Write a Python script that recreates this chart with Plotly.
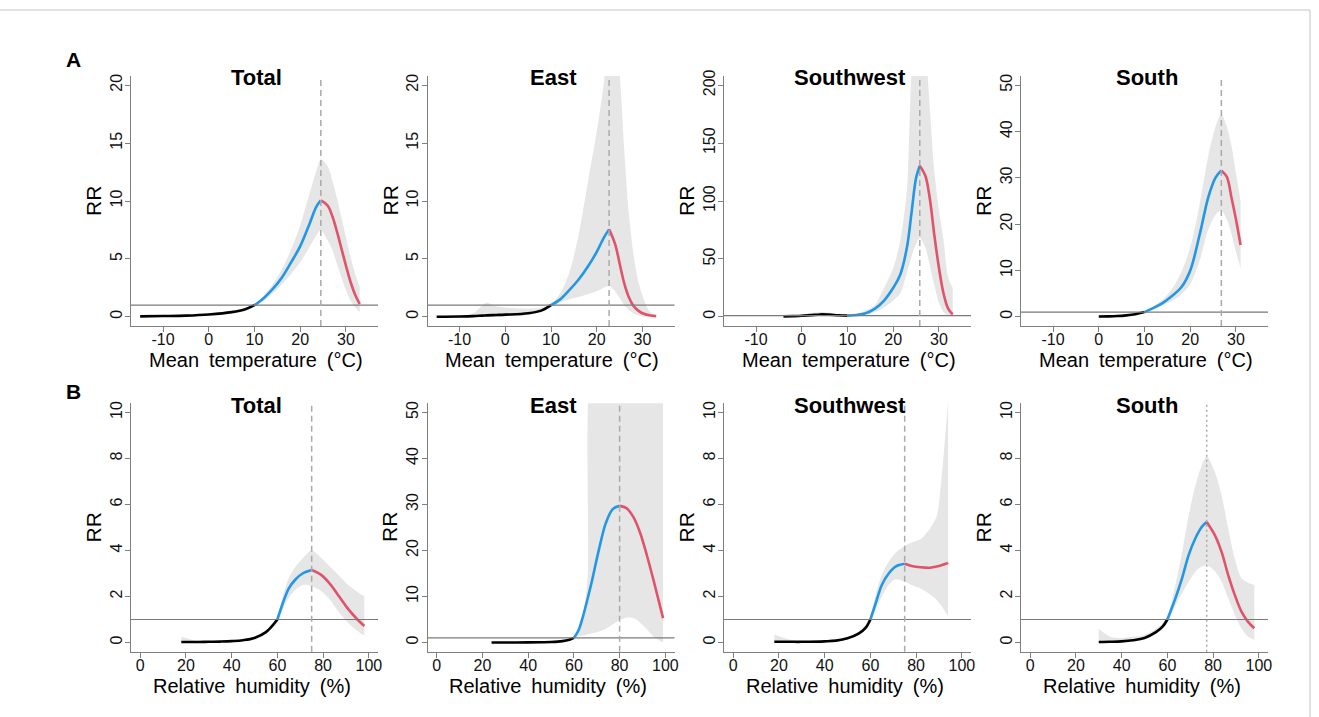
import plotly.graph_objects as go

# ---------------- data ----------------
TEMP_CUT = 10          # threshold where colour changes black -> blue (temperature)
HUM_CUT = 60           # threshold where colour changes black -> blue (humidity)
REF_RR = 1             # reference line RR = 1

panel_titles = ["Total", "East", "Southwest", "South"]
temp_ticks = [-10, 0, 10, 20, 30]
hum_ticks = [0, 20, 40, 60, 80, 100]

# Row A: mean temperature
tot_t_x = [-15, -10, -5, 0, 5, 8, 10, 12, 14, 16, 18, 20, 22, 23.5, 24.5, 26, 27, 28, 29, 30, 31, 32, 33]
tot_t_rr = [0.03, 0.06, 0.1, 0.2, 0.4, 0.65, 1.0, 1.6, 2.4, 3.4, 4.7, 6.1, 8.0, 9.5, 10.05, 9.6, 8.7, 7.4, 5.9, 4.4, 3.0, 1.9, 1.1]
tot_t_lo = [0.01, 0.03, 0.07, 0.15, 0.33, 0.58, 0.93, 1.4, 2.0, 2.8, 3.7, 4.7, 6.0, 7.0, 7.5, 6.6, 5.8, 4.6, 3.4, 2.3, 1.4, 0.8, 0.4]
tot_t_hi = [0.08, 0.1, 0.15, 0.27, 0.5, 0.75, 1.08, 1.8, 2.8, 4.1, 5.8, 7.9, 10.6, 12.6, 13.6, 13.0, 11.8, 10.3, 8.6, 6.9, 5.2, 3.7, 2.6]
tot_t_mmt = 24.5

east_t_x = [-15, -10, -7, -5, -4, -2, 0, 5, 8, 10, 12, 14, 16, 18, 20, 21.5, 22.7, 24, 25, 26, 27, 28, 29, 30, 31.5, 33]
east_t_rr = [0.0, 0.02, 0.05, 0.1, 0.12, 0.15, 0.18, 0.3, 0.55, 1.0, 1.5, 2.3, 3.2, 4.3, 5.6, 6.8, 7.55, 6.3, 4.6, 2.9, 1.7, 0.95, 0.55, 0.3, 0.12, 0.05]
east_t_lo = [0, 0, 0, 0, 0, 0, 0.05, 0.15, 0.4, 0.9, 1.25, 1.5, 1.7, 1.95, 2.2, 2.5, 2.65, 2.2, 1.6, 1.0, 0.6, 0.3, 0.15, 0.05, 0.02, 0]
east_t_hi = [0, 0.05, 0.3, 1.0, 1.2, 0.9, 0.8, 0.7, 0.8, 1.1, 2.0, 3.8, 7.0, 11.5, 16.0, 20, 24, 24, 21, 14.5, 9, 5.5, 3.2, 1.8, 0.5, 0.1]
east_t_mmt = 22.7

sw_t_x = [-4, -2, 0, 2, 4, 6, 8, 10, 12, 14, 16, 18, 20, 21.5, 23, 24, 25, 25.8, 27, 28, 29, 30, 31, 32, 33]
sw_t_rr = [0.3, 0.5, 0.8, 1.4, 2.0, 1.8, 1.3, 1.0, 1.5, 3.0, 7, 14, 25, 36, 60, 90, 120, 130.5, 122, 102, 70, 42, 20, 7, 2]
sw_t_lo = [0, 0, 0.2, 0.6, 1.0, 0.8, 0.6, 0.6, 1.0, 2.0, 4, 8, 14, 20, 38, 52, 63, 68, 60, 44, 27, 12, 4, 1, 0]
sw_t_hi = [0.8, 1.2, 1.8, 3, 4, 3.5, 2.5, 1.6, 2.2, 5.5, 10, 25, 42, 65, 110, 210, 240, 250, 230, 180, 125, 92, 66, 34, 25]
sw_t_mmt = 25.8

s_t_x = [0, 2, 4, 6, 8, 10, 12, 14, 16, 18, 20, 22, 24, 25.5, 26.8, 28, 29, 30, 31]
s_t_rr = [0.05, 0.08, 0.15, 0.3, 0.55, 1.0, 1.9, 3.0, 4.5, 6.3, 10, 17.5, 26, 30, 31.6, 30.2, 25.8, 21, 15.5]
s_t_lo = [0.02, 0.05, 0.1, 0.22, 0.45, 0.9, 1.6, 2.5, 3.4, 4.8, 7.0, 12, 19, 22, 23, 21, 18, 14, 10.5]
s_t_hi = [0.1, 0.15, 0.25, 0.45, 0.75, 1.1, 2.3, 3.7, 6, 9.5, 15, 24, 35, 41, 43.8, 41, 37, 31, 25]
s_t_mmt = 26.8

# Row B: relative humidity
tot_h_x = [18, 25, 30, 35, 40, 45, 50, 55, 60, 62, 65, 68, 71, 75, 79, 83, 87, 91, 95, 98]
tot_h_rr = [0.02, 0.02, 0.03, 0.04, 0.06, 0.1, 0.2, 0.45, 1.0, 1.6, 2.35, 2.75, 3.0, 3.15, 2.95, 2.55, 2.0, 1.45, 1.0, 0.72]
tot_h_lo = [0.0, 0.01, 0.02, 0.03, 0.05, 0.08, 0.17, 0.4, 0.85, 1.35, 1.95, 2.3, 2.5, 2.45, 2.25, 1.85, 1.3, 0.85, 0.5, 0.3]
tot_h_hi = [0.25, 0.08, 0.05, 0.06, 0.08, 0.12, 0.24, 0.52, 1.15, 1.9, 2.8, 3.3, 3.65, 4.0, 3.7, 3.3, 2.9, 2.5, 2.2, 2.0]
tot_h_mmt = 75

east_h_x = [24, 30, 40, 46, 50, 55, 58, 60, 62, 64, 66, 68, 71, 74, 77, 80, 83, 86, 89, 92, 95, 99]
east_h_rr = [0.0, 0.0, 0.02, 0.05, 0.1, 0.3, 0.6, 1.0, 2.6, 5.7, 9.5, 13.6, 20.3, 26, 29.0, 29.7, 29.2, 27.3, 23.8, 18.8, 13.2, 5.3]
east_h_lo = [0, 0, 0, 0, 0, 0.1, 0.4, 0.8, 1.3, 1.5, 1.8, 2.0, 2.4, 3.0, 3.9, 4.9, 5.4, 5.3, 4.3, 2.8, 1.2, 0.0]
east_h_hi = [0.02, 0.02, 0.05, 0.1, 0.2, 0.5, 0.9, 1.3, 3, 6, 14, 60, 60, 60, 60, 60, 60, 60, 60, 60, 60, 60]
east_h_mmt = 80

sw_h_x = [18, 25, 30, 40, 45, 50, 55, 58, 60, 62, 65, 68, 71, 75, 78, 82, 86, 89, 91, 93, 94]
sw_h_rr = [0.03, 0.03, 0.03, 0.05, 0.08, 0.18, 0.4, 0.65, 1.0, 1.6, 2.5, 3.0, 3.3, 3.42, 3.33, 3.27, 3.25, 3.3, 3.36, 3.42, 3.46]
sw_h_lo = [0.0, 0.01, 0.02, 0.03, 0.05, 0.14, 0.33, 0.55, 0.85, 1.35, 2.0, 2.5, 2.75, 2.65, 2.5, 2.35, 2.1, 1.85, 1.6, 1.3, 1.15]
sw_h_hi = [0.35, 0.12, 0.06, 0.07, 0.1, 0.22, 0.48, 0.78, 1.2, 1.95, 2.95, 3.5, 3.9, 4.2, 4.35, 4.5, 4.95, 5.5, 7.0, 9.3, 10.5]
sw_h_mmt = 75

s_h_x = [30, 35, 40, 45, 50, 55, 58, 60, 63.5, 66.4, 69.3, 72.2, 75, 77.2, 80.8, 83.7, 86.6, 89.5, 92.4, 95.2, 98]
s_h_rr = [0.02, 0.03, 0.05, 0.1, 0.2, 0.45, 0.7, 1.0, 1.92, 2.79, 3.8, 4.52, 5.02, 5.24, 4.66, 3.94, 2.93, 2.06, 1.34, 0.91, 0.62]
s_h_lo = [0.0, 0.0, 0.02, 0.06, 0.15, 0.38, 0.6, 0.88, 1.6, 2.14, 2.64, 3.07, 3.3, 3.36, 3.1, 2.64, 1.92, 1.2, 0.62, 0.26, 0.12]
s_h_hi = [0.6, 0.25, 0.2, 0.25, 0.33, 0.6, 0.85, 1.15, 2.5, 3.9, 5.5, 6.8, 7.7, 8.1, 7.4, 6.4, 4.95, 3.65, 2.79, 2.6, 2.5]
s_h_mmt = 77.2

# ---------------- layout constants ----------------
W, H = 1319, 717
FONT = "Arial, Liberation Sans, Helvetica, sans-serif"
C_BLACK, C_BLUE, C_RED = "#000000", "#2297E6", "#DF536B"
C_BAND = "#E6E6E6"
C_AXIS = "#7F7F7F"

col_left = [131, 427.5, 724, 1021]   # px
col_w = 247
row_top = [76, 403.3]
row_bot = [326, 651.7]

panels = [
    dict(x=tot_t_x, rr=tot_t_rr, lo=tot_t_lo, hi=tot_t_hi, mmt=tot_t_mmt, cut=TEMP_CUT, row=0, col=0, yr=[-0.8, 20.8], dt=5),
    dict(x=east_t_x, rr=east_t_rr, lo=east_t_lo, hi=east_t_hi, mmt=east_t_mmt, cut=TEMP_CUT, row=0, col=1, yr=[-0.8, 20.8], dt=5),
    dict(x=sw_t_x, rr=sw_t_rr, lo=sw_t_lo, hi=sw_t_hi, mmt=sw_t_mmt, cut=TEMP_CUT, row=0, col=2, yr=[-8, 208], dt=50),
    dict(x=s_t_x, rr=s_t_rr, lo=s_t_lo, hi=s_t_hi, mmt=s_t_mmt, cut=TEMP_CUT, row=0, col=3, yr=[-2, 52], dt=10),
    dict(x=tot_h_x, rr=tot_h_rr, lo=tot_h_lo, hi=tot_h_hi, mmt=tot_h_mmt, cut=HUM_CUT, row=1, col=0, yr=[-0.4, 10.4], dt=2),
    dict(x=east_h_x, rr=east_h_rr, lo=east_h_lo, hi=east_h_hi, mmt=east_h_mmt, cut=HUM_CUT, row=1, col=1, yr=[-2, 52], dt=10),
    dict(x=sw_h_x, rr=sw_h_rr, lo=sw_h_lo, hi=sw_h_hi, mmt=sw_h_mmt, cut=HUM_CUT, row=1, col=2, yr=[-0.4, 10.4], dt=2),
    dict(x=s_h_x, rr=s_h_rr, lo=s_h_lo, hi=s_h_hi, mmt=s_h_mmt, cut=HUM_CUT, row=1, col=3, yr=[-0.4, 10.4], dt=2, dot=True),
]

fig = go.Figure()
layout = dict(
    width=W, height=H, margin=dict(l=0, r=0, t=0, b=0, autoexpand=False),
    paper_bgcolor="white", plot_bgcolor="white", showlegend=False,
    font=dict(family=FONT, color="#111111"),
)
shapes, annotations = [], []


def px_x(p):
    return p / W


def px_y(p):
    return 1 - p / H


for i, p in enumerate(panels):
    n = "" if i == 0 else str(i + 1)
    xa, ya = "x" + n, "y" + n
    r, c = p["row"], p["col"]
    x0 = col_left[c]
    x1 = x0 + col_w
    dom_x = [px_x(x0), px_x(x1)]
    dom_y = [px_y(row_bot[r]), px_y(row_top[r])]
    if r == 0:
        xr, xt = [-17, 37], temp_ticks
        xtitle = "Mean temperature (°C)"
        tshift = 1
    else:
        xr, xt = [-4, 104], hum_ticks
        xtitle = "Relative humidity (%)"
        tshift = -3
    yt = [k * p["dt"] for k in range(6) if k * p["dt"] <= p["yr"][1]]

    layout["xaxis" + n] = dict(
        domain=dom_x, anchor=ya, range=xr, tickvals=xt, ticktext=[str(v) for v in xt],
        showgrid=False, zeroline=False, automargin=False,
        showline=True, linecolor=C_AXIS, linewidth=1, ticks="outside", ticklen=5,
        tickcolor=C_AXIS, ticklabelstandoff=-6,
        tickfont=dict(size=16, family=FONT, color="#111"), fixedrange=True,
    )
    layout["yaxis" + n] = dict(
        domain=dom_y, anchor=xa, range=p["yr"], tickvals=yt, ticktext=[str(v) for v in yt],
        showgrid=False, automargin=False, ticklabelstandoff=-3,
        zeroline=False, showline=True, linecolor=C_AXIS, linewidth=1, ticks="outside",
        ticklen=5, tickcolor=C_AXIS, tickangle=-90,
        tickfont=dict(size=16, family=FONT, color="#111"), fixedrange=True,
    )

    # confidence band
    fig.add_trace(go.Scatter(x=p["x"], y=p["lo"], xaxis=xa, yaxis=ya, mode="lines",
                             line=dict(width=0, shape="spline", smoothing=0.8),
                             hoverinfo="skip"))
    fig.add_trace(go.Scatter(x=p["x"], y=p["hi"], xaxis=xa, yaxis=ya, mode="lines",
                             line=dict(width=0, shape="spline", smoothing=0.8),
                             fill="tonexty", fillcolor=C_BAND, hoverinfo="skip"))

    # coloured segments
    segs = [
        ([(a, b) for a, b in zip(p["x"], p["rr"]) if a <= p["cut"]], C_BLACK),
        ([(a, b) for a, b in zip(p["x"], p["rr"]) if p["cut"] <= a <= p["mmt"]], C_BLUE),
        ([(a, b) for a, b in zip(p["x"], p["rr"]) if a >= p["mmt"]], C_RED),
    ]
    for pts, col in segs:
        fig.add_trace(go.Scatter(x=[q[0] for q in pts], y=[q[1] for q in pts], xaxis=xa, yaxis=ya,
                                 mode="lines", line=dict(color=col, width=2.6, shape="spline", smoothing=1.0)))

    # reference line and MMT line
    shapes.append(dict(type="line", xref=xa + " domain", yref=ya, x0=0, x1=1, y0=REF_RR, y1=REF_RR,
                       line=dict(color="#7A7A7A", width=1.2)))
    shapes.append(dict(type="line", xref=xa, yref=ya + " domain", x0=p["mmt"], x1=p["mmt"], y0=0, y1=1,
                       line=dict(color="#AAAAAA", width=1.5,
                                 dash="2px,3px" if p.get("dot") else "6px,4px")))

    cx = (x0 + x1) / 2
    # panel title
    annotations.append(dict(text="<b>%s</b>" % panel_titles[c], x=px_x(cx + 2), y=px_y(row_top[r] + 2),
                            xref="paper", yref="paper", showarrow=False, xanchor="center", yanchor="middle",
                            font=dict(size=22, family=FONT, color="#000")))
    # y title
    annotations.append(dict(text="RR", x=px_x(x0 - 38), y=px_y((row_top[r] + row_bot[r]) / 2),
                            xref="paper", yref="paper", showarrow=False, textangle=-90,
                            xanchor="center", yanchor="middle", font=dict(size=21, family=FONT, color="#000")))
    # x title
    annotations.append(dict(text=xtitle.replace(" ", "\u2002"), x=px_x(cx + tshift), y=px_y(row_bot[r] + 34),
                            xref="paper", yref="paper", showarrow=False, xanchor="center", yanchor="middle",
                            font=dict(size=20, family=FONT, color="#000")))

# row labels
for lab, yy in (("A", 59), ("B", 391)):
    annotations.append(dict(text="<b>%s</b>" % lab, x=px_x(73), y=px_y(yy), xref="paper", yref="paper",
                            showarrow=False, xanchor="center", yanchor="middle",
                            font=dict(size=21, family=FONT, color="#000")))

# outer frame lines
shapes.append(dict(type="line", xref="paper", yref="paper", x0=0, x1=px_x(1310), y0=px_y(10), y1=px_y(10),
                   line=dict(color="#C4C4C4", width=1)))
shapes.append(dict(type="line", xref="paper", yref="paper", x0=px_x(1310), x1=px_x(1310), y0=0, y1=px_y(10),
                   line=dict(color="#C4C4C4", width=1)))

layout["shapes"] = shapes
layout["annotations"] = annotations
fig.update_layout(**layout)
fig.write_html("out.html", config={"displayModeBar": False},
               post_script="document.body.style.margin='0';document.body.style.overflow='hidden';")
